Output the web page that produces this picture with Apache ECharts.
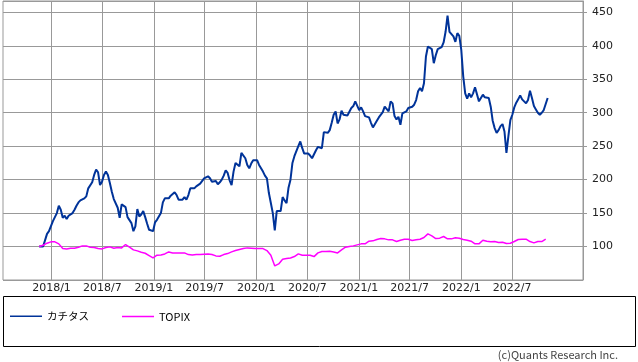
<!DOCTYPE html>
<html>
<head>
<meta charset="utf-8">
<script src="https://cdn.jsdelivr.net/npm/echarts@6.0.0/dist/echarts.min.js"></script>
<style>
  html, body { margin: 0; padding: 0; background: #fff; }
  #chart { width: 638px; height: 362px; }
</style>
</head>
<body>
<div id="chart"></div>
<script>
// ---- data (weekly closes, both rebased to 100 at start) ----
const seriesNames = ['カチタス', 'TOPIX'];
const firstWeek = [2017, 11, 18];           // first data week (y, m, d)
const xTickLabels = ['2018/1', '2018/7', '2019/1', '2019/7', '2020/1', '2020/7', '2021/1', '2021/7', '2022/1', '2022/7'];
const xRange = ['2017-07-12', '2023-03-11'];
const yTicks = [100, 150, 200, 250, 300, 350, 400, 450];
const yRange = [50, 467];

// カチタス – weekly
const katitas = [
  100, 100, 100, 101, 119, 123, 125, 138, 144, 150,
  161, 155, 143, 146, 141, 146, 148, 150, 155, 161,
  166, 169, 170, 172, 175, 187, 186, 196, 207, 215,
  211, 192, 197, 207, 212, 207, 195, 182, 171, 169,
  158, 143, 163, 165, 159, 144, 146, 135, 123, 130,
  156, 145, 148, 153, 144, 134, 125, 123, 123, 136,
  140, 142, 150, 166, 172, 170, 172, 176, 178, 181,
  177, 170, 168, 170, 174, 170, 177, 187, 187, 187,
  190, 192, 194, 196, 202, 203, 205, 202, 197, 195,
  198, 193, 196, 200, 206, 214, 210, 199, 192, 212,
  225, 227, 220, 240, 241, 232, 222, 217, 224, 229,
  230, 229, 222, 217, 212, 206, 202, 180, 165, 150,
  124, 153, 155, 153, 174, 169, 165, 188, 200, 225,
  235, 234, 250, 257, 247, 239, 240, 239, 236, 232,
  231, 244, 249, 249, 247, 271, 272, 270, 274, 285,
  297, 302, 284, 290, 303, 297, 299, 296, 298, 307,
  310, 317, 318, 304, 308, 302, 295, 294, 293, 285,
  278, 280, 288, 293, 295, 301, 309, 308, 302, 317,
  314, 295, 290, 294, 282, 299, 297, 302, 307, 309,
  309, 312, 319, 332, 337, 332, 344, 384, 399, 400,
  395, 374, 386, 395, 396, 398, 405, 421, 445, 421,
  420, 414, 406, 419, 415, 394, 354, 329, 321, 329,
  323, 329, 338, 337, 317, 322, 327, 323, 324, 322,
  309, 288, 277, 270, 274, 280, 283, 272, 240, 265,
  289, 297, 308, 315, 320, 326, 320, 320, 314, 319,
  333, 322, 310, 305, 300, 297, 300, 304, 305, 322
];

// TOPIX – every second week
const topix = [
  100, 102, 105, 107, 107, 104, 97, 96.5, 97.5, 97.5,
  99, 101, 101, 99, 98.5, 97, 96.5, 98.5, 99.5, 97.5,
  98.5, 98, 103, 99, 95, 93.5, 91.5, 90, 86.5, 83,
  87, 87.5, 89, 92, 90.5, 90.5, 90.5, 90.5, 88, 87.5,
  88, 88, 88.5, 89, 88, 86, 85.5, 88, 89.5, 92,
  94, 95.5, 97, 98, 97.5, 97, 97, 97, 94, 87,
  71, 74, 81, 82, 83, 85, 89, 87, 87, 87,
  85, 90.5, 92.5, 92.5, 93, 92, 90.5, 95, 99, 100,
  101, 102.5, 104, 104, 108, 108.5, 110.5, 112, 111.5, 110,
  110, 107.5, 109.5, 111, 111, 109, 110, 111, 113.5, 119,
  116, 112, 112.5, 115, 111.5, 111.5, 113, 112.5, 110.5, 109.5,
  108, 104, 104, 109.5, 108, 107, 107.5, 106, 106.5, 104.5,
  105, 107.5, 110.5, 111, 111, 107.5, 105.5, 107.5, 107.5, 111
];

// ---- build ----
const DAY = 86400000;
const t0 = Date.UTC(firstWeek[0], firstWeek[1] - 1, firstWeek[2]);
const katitasData = katitas.map((v, i) => [t0 + i * 7 * DAY, v]);
const topixData = topix.map((v, i) => [t0 + i * 14 * DAY, v]);
const tickValues = xTickLabels.map(s => {
  const [y, m] = s.split('/').map(Number);
  return Date.UTC(y, m - 1, 1);
});
const parseDay = s => { const [y, m, d] = s.split('-').map(Number); return Date.UTC(y, m - 1, d); };

const chart = echarts.init(document.getElementById('chart'), null, { renderer: 'canvas' });
const gridColor = '#999999';
chart.setOption({
  animation: false,
  backgroundColor: '#ffffff',
  textStyle: { fontFamily: 'DejaVu Sans' },
  grid: {
    left: 3, right: 55, top: 1, bottom: 82,
    show: true, borderColor: gridColor, borderWidth: 1, backgroundColor: 'transparent'
  },
  xAxis: {
    type: 'value',
    min: parseDay(xRange[0]),
    max: parseDay(xRange[1]),
    axisLine: { show: false },
    axisTick: { show: false, customValues: tickValues },
    splitLine: { show: true, lineStyle: { color: gridColor, width: 1 } },
    axisLabel: {
      customValues: tickValues,
      margin: 3,
      fontSize: 11,
      color: '#222',
      fontFamily: 'DejaVu Sans',
      formatter: (val) => {
        let best = 0, bd = Infinity;
        tickValues.forEach((t, i) => { const d = Math.abs(t - val); if (d < bd) { bd = d; best = i; } });
        return xTickLabels[best];
      }
    }
  },
  yAxis: {
    type: 'value',
    position: 'right',
    min: yRange[0],
    max: yRange[1],
    interval: 50,
    axisLine: { show: true, lineStyle: { color: gridColor } },
    axisTick: { show: true, inside: false, length: 4, lineStyle: { color: gridColor } },
    splitLine: { show: true, lineStyle: { color: gridColor, width: 1 } },
    axisLabel: {
      margin: 9,
      fontSize: 11,
      color: '#222',
      fontFamily: 'DejaVu Sans',
      showMinLabel: false,
      showMaxLabel: false,
      formatter: (v) => (yTicks.indexOf(v) >= 0 ? String(v) : '')
    }
  },
  legend: [
    {
      data: [seriesNames[0]], left: 10, top: 311, padding: 0,
      icon: 'rect', itemWidth: 32, itemHeight: 1.5,
      textStyle: { fontFamily: 'Noto Sans CJK JP', fontSize: 10.5, color: '#000' }
    },
    {
      data: [seriesNames[1]], left: 122, top: 311, padding: 0,
      icon: 'rect', itemWidth: 32, itemHeight: 1.5,
      textStyle: { fontFamily: 'Noto Sans CJK JP', fontSize: 11, color: '#000' }
    }
  ],
  title: {
    text: '(c)Quants Research Inc.',
    right: 20, top: 349, padding: 0,
    textStyle: { fontFamily: 'Noto Sans CJK JP', fontSize: 11, fontWeight: 'normal', color: '#444' }
  },
  graphic: [{
    type: 'rect',
    shape: { x: 3.5, y: 296.5, width: 632, height: 50 },
    style: { fill: 'none', stroke: '#000', lineWidth: 1 },
    silent: true
  }],
  series: [
    {
      name: seriesNames[0], type: 'line', data: katitasData,
      showSymbol: false, symbol: 'none',
      lineStyle: { color: '#003399', width: 2 },
      itemStyle: { color: '#003399' }
    },
    {
      name: seriesNames[1], type: 'line', data: topixData,
      showSymbol: false, symbol: 'none',
      lineStyle: { color: '#ff00ff', width: 1.5 },
      itemStyle: { color: '#ff00ff' }
    }
  ]
});
</script>
</body>
</html>
